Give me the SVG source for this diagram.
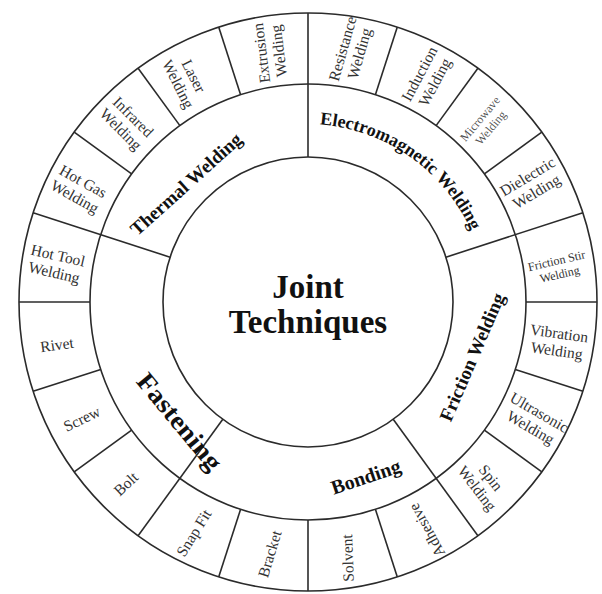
<svg xmlns="http://www.w3.org/2000/svg" width="602" height="594" viewBox="0 0 602 594">
<style>
.ring{fill:none;stroke:#2b2b2b;stroke-width:1.6}
.div{stroke:#2b2b2b;stroke-width:1.6;fill:none}
.cat{font-family:"Liberation Serif","Times New Roman",serif;font-weight:bold;font-size:19px;fill:#111;text-anchor:middle}
.leaf{font-family:"Liberation Serif","Times New Roman",serif;font-size:15.5px;fill:#333;text-anchor:middle}
.small{font-size:12px}
.center{font-family:"Liberation Serif","Times New Roman",serif;font-weight:bold;font-size:33px;fill:#111;text-anchor:middle}
</style>
<defs>
<path id="arcEM" d="M 196.2 160.9 A 181 181 0 0 1 475.4 368.3"/>
</defs>
<rect width="602" height="594" fill="#fff"/>
<g id="rings">
<circle class="ring" cx="308" cy="302" r="289"/>
<circle class="ring" cx="308" cy="302" r="218"/>
</g>
<g id="connectors">
<line class="div" x1="308" y1="157" x2="308" y2="13"/>
<line class="div" x1="445.9" y1="257.2" x2="582.9" y2="212.7"/>
<line class="div" x1="393.2" y1="419.3" x2="477.9" y2="535.8"/>
<line class="div" x1="222.8" y1="419.3" x2="138.1" y2="535.8"/>
<line class="div" x1="170.1" y1="257.2" x2="33.1" y2="212.7"/>
<line class="div" x1="375.4" y1="94.7" x2="397.3" y2="27.1"/>
<line class="div" x1="436.1" y1="125.6" x2="477.9" y2="68.2"/>
<line class="div" x1="484.4" y1="173.9" x2="541.8" y2="132.1"/>
<line class="div" x1="526" y1="302" x2="597" y2="302"/>
<line class="div" x1="515.3" y1="369.4" x2="582.9" y2="391.3"/>
<line class="div" x1="484.4" y1="430.1" x2="541.8" y2="471.9"/>
<line class="div" x1="375.4" y1="509.3" x2="397.3" y2="576.9"/>
<line class="div" x1="308" y1="520" x2="308" y2="591"/>
<line class="div" x1="240.6" y1="509.3" x2="218.7" y2="576.9"/>
<line class="div" x1="131.6" y1="430.1" x2="74.2" y2="471.9"/>
<line class="div" x1="100.7" y1="369.4" x2="33.1" y2="391.3"/>
<line class="div" x1="90" y1="302" x2="19" y2="302"/>
<line class="div" x1="131.6" y1="173.9" x2="74.2" y2="132.1"/>
<line class="div" x1="179.9" y1="125.6" x2="138.1" y2="68.2"/>
<line class="div" x1="240.6" y1="94.7" x2="218.7" y2="27.1"/>
</g>
<g id="node-joint-techniques">
<circle class="ring" cx="308" cy="302" r="145"/>
<text class="center" x="308" y="298">Joint</text>
<text class="center" x="308" y="333">Techniques</text>
</g>
<g id="node-thermal-welding" transform="translate(186,184) rotate(-42)">
<text class="cat" x="0" y="6.5">Thermal Welding</text>
</g>
<g id="node-electromagnetic-welding">
<text class="cat" style="font-size:18px"><textPath href="#arcEM" startOffset="49%">Electromagnetic Welding</textPath></text>
</g>
<g id="node-friction-welding" transform="translate(472,357) rotate(-66.7)">
<text class="cat" x="0" y="6.5">Friction Welding</text>
</g>
<g id="node-bonding" transform="translate(366,477) rotate(-18.5)">
<text class="cat" x="0" y="6.5" style="font-size:20px">Bonding</text>
</g>
<g id="node-fastening" transform="translate(179,422) rotate(50.4)">
<text class="cat" x="0" y="8" style="font-size:26px" textLength="118" lengthAdjust="spacingAndGlyphs">Fastening</text>
</g>
<g id="node-hot-gas-welding" transform="translate(79,189) rotate(29)"><text class="leaf"><tspan x="0" y="-3.5">Hot Gas</tspan><tspan x="0" y="14">Welding</tspan></text></g>
<g id="node-infrared-welding" transform="translate(127,123) rotate(45)"><text class="leaf"><tspan x="0" y="-3.5">Infrared</tspan><tspan x="0" y="14">Welding</tspan></text></g>
<g id="node-laser-welding" transform="translate(186,80) rotate(63)"><text class="leaf"><tspan x="0" y="-3.5">Laser</tspan><tspan x="0" y="14">Welding</tspan></text></g>
<g id="node-extrusion-welding" transform="translate(270,52) rotate(-97)"><text class="leaf"><tspan x="0" y="-3.5">Extrusion</tspan><tspan x="0" y="14">Welding</tspan></text></g>
<g id="node-resistance-welding" transform="translate(351,51) rotate(-74)"><text class="leaf"><tspan x="0" y="-3.5">Resistance</tspan><tspan x="0" y="14">Welding</tspan></text></g>
<g id="node-induction-welding" transform="translate(427,78) rotate(-62)"><text class="leaf"><tspan x="0" y="-3.5">Induction</tspan><tspan x="0" y="14">Welding</tspan></text></g>
<g id="node-microwave-welding" transform="translate(485,123) rotate(-50)"><text class="leaf small" fill-opacity="0.85"><tspan x="0" y="-2.5">Microwave</tspan><tspan x="0" y="11.5">Welding</tspan></text></g>
<g id="node-dielectric-welding" transform="translate(532,184) rotate(-31)"><text class="leaf"><tspan x="0" y="-3.5">Dielectric</tspan><tspan x="0" y="14">Welding</tspan></text></g>
<g id="node-friction-stir-welding" transform="translate(558,267) rotate(-13)"><text class="leaf small"><tspan x="0" y="-2.5">Friction Stir</tspan><tspan x="0" y="11.5">Welding</tspan></text></g>
<g id="node-vibration-welding" transform="translate(558,342) rotate(8)"><text class="leaf"><tspan x="0" y="-3.5">Vibration</tspan><tspan x="0" y="14">Welding</tspan></text></g>
<g id="node-ultrasonic-welding" transform="translate(535,420) rotate(30)"><text class="leaf"><tspan x="0" y="-3.5">Ultrasonic</tspan><tspan x="0" y="14">Welding</tspan></text></g>
<g id="node-spin-welding" transform="translate(484,483) rotate(52)"><text class="leaf"><tspan x="0" y="-3.5">Spin</tspan><tspan x="0" y="14">Welding</tspan></text></g>
<g id="node-adhesive" transform="translate(427,530) rotate(-119)"><text class="leaf" x="0" y="5">Adhesive</text></g>
<g id="node-solvent" transform="translate(348,558) rotate(-92)"><text class="leaf" x="0" y="5">Solvent</text></g>
<g id="node-bracket" transform="translate(270,554) rotate(-73)"><text class="leaf" x="0" y="5">Bracket</text></g>
<g id="node-snap-fit" transform="translate(194,533) rotate(-58)"><text class="leaf" x="0" y="5">Snap Fit</text></g>
<g id="node-bolt" transform="translate(126,484) rotate(-43)"><text class="leaf" x="0" y="5">Bolt</text></g>
<g id="node-screw" transform="translate(82,419) rotate(-26)"><text class="leaf" x="0" y="5">Screw</text></g>
<g id="node-rivet" transform="translate(57,345) rotate(-8)"><text class="leaf" x="0" y="5">Rivet</text></g>
<g id="node-hot-tool-welding" transform="translate(56,264) rotate(13)"><text class="leaf"><tspan x="0" y="-3.5">Hot Tool</tspan><tspan x="0" y="14">Welding</tspan></text></g>
</svg>
